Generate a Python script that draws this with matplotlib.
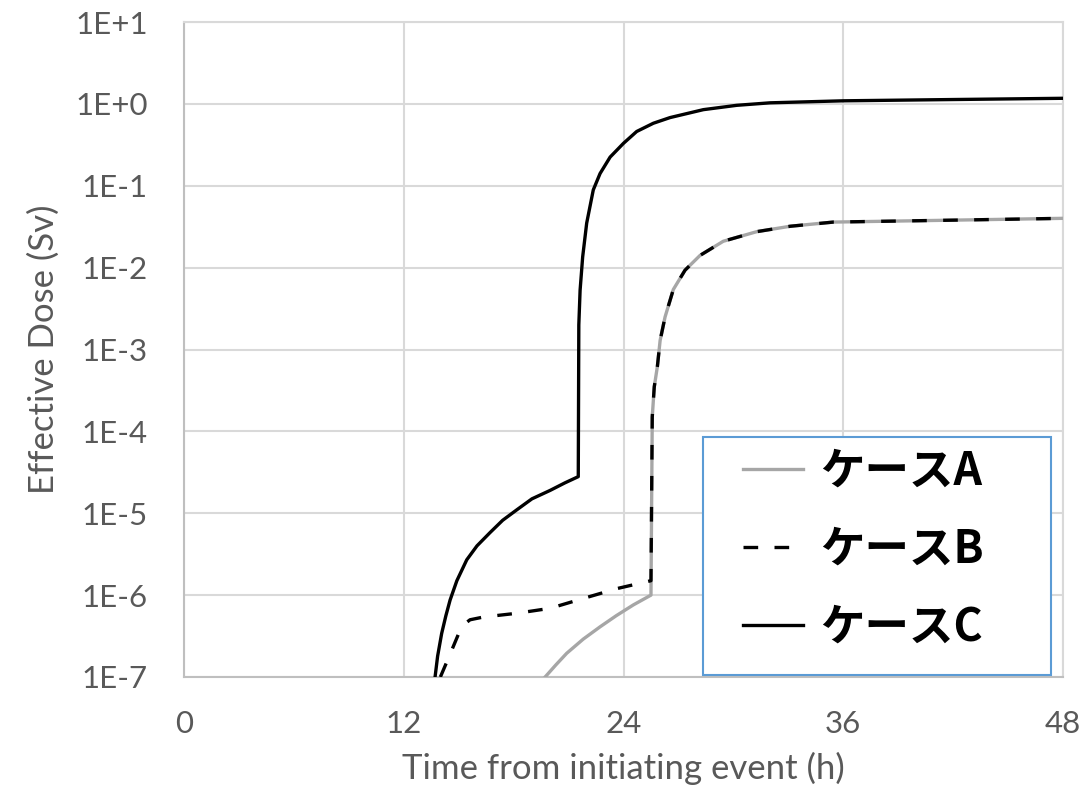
import matplotlib.pyplot as plt
from matplotlib.patches import Rectangle
from matplotlib.ticker import FixedLocator, NullLocator

# values (time in h, effective dose in Sv)
t_a = [19.72, 20.3, 20.9, 21.8, 22.72, 23.6, 24.54, 25.5, 25.57, 25.68, 25.85, 26.0, 26.27,
       26.72, 27.36, 28.18, 29.45, 31.28, 33.1, 35.46, 42, 48]
dose_a = [1.0e-7, 1.4e-7, 1.95e-7, 2.9e-7, 4.1e-7, 5.6e-7, 7.6e-7, 1.0e-6, 1.5e-4, 3.5e-4,
          6.2e-4, 1.29e-3, 2.5e-3, 5.4e-3, 9.3e-3, 1.41e-2, 2.1e-2, 2.75e-2, 3.2e-2, 3.6e-2,
          3.8e-2, 4.0e-2]

t_b = [14.0, 14.53, 15.07, 15.3, 15.62, 16.35, 18.17, 19.99, 21.8, 23.63, 25.5, 25.57, 25.68,
       25.85, 26.0, 26.27, 26.72, 27.36, 28.18, 29.45, 31.28, 33.1, 35.46, 42, 48]
dose_b = [1.0e-7, 1.9e-7, 3.7e-7, 4.4e-7, 5.0e-7, 5.4e-7, 6.0e-7, 6.9e-7, 9.1e-7, 1.2e-6,
          1.5e-6, 1.5e-4, 3.5e-4, 6.2e-4, 1.29e-3, 2.5e-3, 5.4e-3, 9.3e-3, 1.41e-2, 2.1e-2,
          2.75e-2, 3.2e-2, 3.6e-2, 3.8e-2, 4.0e-2]

t_c = [13.71, 13.85, 14.07, 14.3, 14.53, 14.9, 15.44, 16.0, 16.71, 17.4, 18.17, 19.0, 19.99,
       20.8, 21.53, 21.56, 21.63, 21.77, 21.99, 22.35, 22.72, 23.27, 24.0, 24.72, 25.63, 26.54,
       28.36, 30.18, 32.0, 36, 42, 48]
dose_c = [1.0e-7, 1.8e-7, 3.4e-7, 5.6e-7, 8.7e-7, 1.5e-6, 2.7e-6, 4.0e-6, 5.8e-6, 8.2e-6,
          1.1e-5, 1.5e-5, 1.9e-5, 2.35e-5, 2.8e-5, 2.0e-3, 5.3e-3, 1.35e-2, 3.5e-2, 8.9e-2,
          0.141, 0.224, 0.33, 0.46, 0.58, 0.68, 0.85, 0.96, 1.03, 1.09, 1.13, 1.17]

labels = ['ケースA', 'ケースB', 'ケースC']
x_ticks = [0, 12, 24, 36, 48]
y_ticks = [1e-7, 1e-6, 1e-5, 1e-4, 1e-3, 1e-2, 1e-1, 1e0, 1e1]
y_ticklabels = ['1E-7', '1E-6', '1E-5', '1E-4', '1E-3', '1E-2', '1E-1', '1E+0', '1E+1']

grid_col = '#d9d9d9'
text_col = '#595959'

fig = plt.figure(figsize=(10.83, 7.86), dpi=100)
ax = fig.add_axes([184 / 1083, 1 - 677 / 786, 879 / 1083, 655 / 786])

ax.plot(t_a, dose_a, color='#a6a6a6', lw=2.4, label=labels[0], zorder=3)
ax.plot(t_b, dose_b, color='black', lw=2.4, dashes=(4.4, 4.9), label=labels[1], zorder=4)
ax.plot(t_c, dose_c, color='black', lw=2.4, label=labels[2], zorder=4)

ax.set_yscale('log')
ax.set_xlim(0, 48)
ax.set_ylim(1e-7, 1e1)
ax.xaxis.set_major_locator(FixedLocator(x_ticks))
ax.yaxis.set_major_locator(FixedLocator(y_ticks))
ax.yaxis.set_minor_locator(NullLocator())
ax.set_yticklabels(y_ticklabels)
ax.set_xticklabels([str(v) for v in x_ticks])

ax.grid(True, color=grid_col, lw=1.5)
ax.set_axisbelow(True)
for s in ax.spines.values():
    s.set_color(grid_col)
    s.set_linewidth(1.5)
ax.spines['left'].set_color('#bfbfbf')
ax.spines['bottom'].set_color('#bfbfbf')

ax.tick_params(axis='both', length=0, labelsize=22.5, labelcolor=text_col)
ax.tick_params(axis='x', pad=24)
ax.tick_params(axis='y', pad=26)
for lab in ax.get_xticklabels() + ax.get_yticklabels():
    lab.set_family('Lato')

ax.set_xlabel('Time from initiating event (h)', fontsize=25, color=text_col, family='Lato', labelpad=10)
ax.set_ylabel('Effective Dose (Sv)', fontsize=25, color=text_col, family='Lato', labelpad=11)

# legend box (Excel style, square blue frame)
ax.add_patch(Rectangle((0.590, 0.003), 0.396, 0.363, transform=ax.transAxes, fill=True,
                       facecolor='white', edgecolor='#5b9bd5', lw=1.5, zorder=5))
leg = ax.legend(loc='center left', bbox_to_anchor=(0.636, 0.194), frameon=False,
                prop={'family': ['Noto Sans CJK JP', 'DejaVu Sans'], 'weight': 'bold', 'size': 32},
                handlelength=1.35, handletextpad=0.38, labelspacing=0.72,
                borderpad=0, borderaxespad=0)
leg.set_zorder(6)

plt.savefig('out.png', dpi=100)
